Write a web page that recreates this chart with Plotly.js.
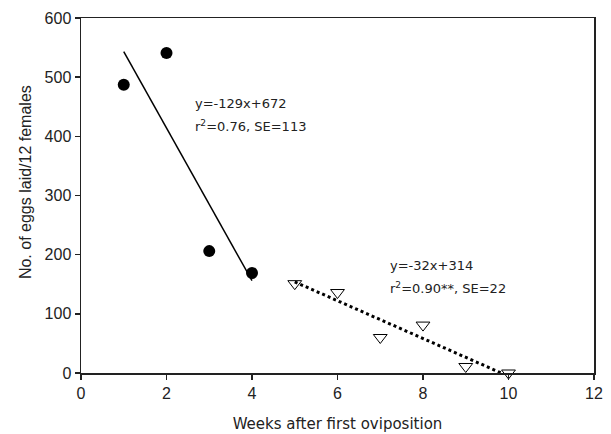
<!DOCTYPE html>
<html>
<head>
<meta charset="utf-8">
<script src="https://cdn.plot.ly/plotly-3.0.1.min.js"></script>
<style>html,body{margin:0;padding:0;background:#fff;}#chart{width:611px;height:434px;}</style>
</head>
<body>
<div id="chart"></div>
<script>
// Early weeks (filled circles)
const weeksEarly = [1, 2, 3, 4];
const eggsEarly = [487, 541, 206, 169];
// Later weeks (open triangles)
const weeksLate = [5, 6, 7, 8, 9, 10];
const eggsLate = [151, 136, 60, 81, 11, 0];
// Fitted regression lines (endpoints)
const fitEarlyX = [1, 4];
const fitEarlyY = [543, 156];
const fitLateX = [5, 9.83];
const fitLateY = [154, 0];
// Tick labels
const xTicks = [0, 2, 4, 6, 8, 10, 12];
const yTicks = [0, 100, 200, 300, 400, 500, 600];
// Equation labels
const eqEarly = ["y=-129x+672", "r<sup>2</sup>=0.76, SE=113"];
const eqLate = ["y=-32x+314", "r<sup>2</sup>=0.90**, SE=22"];

const traces = [
  {x: fitEarlyX, y: fitEarlyY, mode: 'lines', line: {color: '#000', width: 1.5}, hoverinfo: 'skip'},
  {x: fitLateX, y: fitLateY, mode: 'lines', line: {color: '#000', width: 3, dash: 'dot'}, hoverinfo: 'skip'},
  {x: weeksEarly, y: eggsEarly, mode: 'markers', marker: {symbol: 'circle', size: 12, color: '#000'}},
  {x: weeksLate, y: eggsLate, mode: 'markers', marker: {symbol: 'triangle-down-open', size: 12, color: '#000', line: {width: 1, color: '#000'}}, cliponaxis: false}
];

const annFont = {family: 'DejaVu Sans', size: 13, color: '#222'};
function ann(text, x, y) {
  return {text: text, x: x, y: y, xref: 'x', yref: 'y', xanchor: 'left', yanchor: 'middle', showarrow: false, font: annFont};
}

const layout = {
  width: 611, height: 434,
  margin: {l: 81, r: 17, t: 18, b: 61},
  showlegend: false,
  paper_bgcolor: '#fff', plot_bgcolor: '#fff',
  xaxis: {
    range: [0, 12], tickvals: xTicks, ticktext: xTicks.map(String),
    showgrid: false, zeroline: false,
    showline: true, linecolor: '#222', linewidth: 1.5, mirror: true,
    ticks: 'outside', ticklen: 5, tickcolor: '#222', tickwidth: 1.5,
    tickfont: {family: 'Liberation Sans', size: 16, color: '#222'},
    title: {text: 'Weeks after first oviposition', font: {family: 'DejaVu Sans', size: 15, color: '#222'}, standoff: 18}
  },
  yaxis: {
    range: [0, 600], tickvals: yTicks, ticktext: yTicks.map(String),
    showgrid: false, zeroline: false,
    showline: true, linecolor: '#222', linewidth: 1.5, mirror: true,
    ticks: 'outside', ticklen: 5, tickcolor: '#222', tickwidth: 1.5,
    tickfont: {family: 'Liberation Sans', size: 16, color: '#222'}
  },
  annotations: [
    ann(eqEarly[0], 2.62, 456),
    ann(eqEarly[1], 2.62, 417),
    ann(eqLate[0], 7.18, 182),
    ann(eqLate[1], 7.18, 143),
    {text: 'No. of eggs laid/12 females', xref: 'paper', yref: 'paper', x: -0.109, y: 0.538,
     xanchor: 'center', yanchor: 'middle', textangle: -90, showarrow: false,
     font: {family: 'Liberation Sans', size: 16, color: '#222'}}
  ]
};

Plotly.newPlot('chart', traces, layout, {displayModeBar: false, staticPlot: true});
</script>
</body>
</html>
